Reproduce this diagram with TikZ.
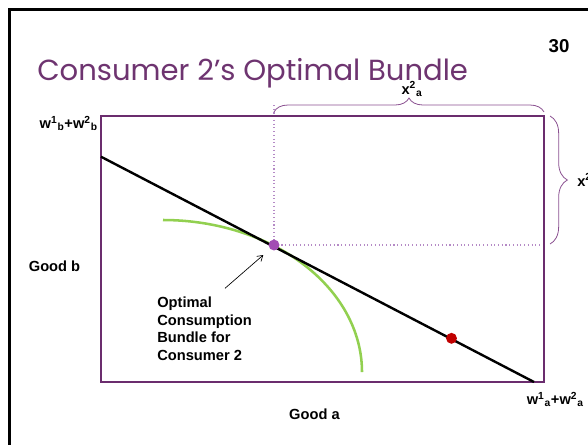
\documentclass[tikz,border=0pt]{standalone}
\usepackage{fontspec}
\setmainfont{Liberation Sans}
\newfontfamily\titlefont{Poppins}
\usetikzlibrary{decorations.pathreplacing,arrows.meta}
\definecolor{boxpurple}{HTML}{6B2D6E}
\definecolor{titlepurple}{HTML}{6E3470}
\definecolor{dotpurple}{HTML}{A24CB4}
\definecolor{lightpurple}{HTML}{B58AC6}
\definecolor{bracepurple}{HTML}{8A5090}
\definecolor{curvegreen}{HTML}{92D050}
\definecolor{dotred}{HTML}{C00000}
\tikzset{
  lbl/.style={font=\fontsize{11}{13.3}\selectfont\bfseries, inner sep=0pt},
  bracestyle/.style={draw=bracepurple, line width=0.6pt, decorate},
  dotline/.style={draw=lightpurple, line width=0.8pt, dotted},
  dotmark/.style={circle, inner sep=0pt, minimum size=8.2pt}
}
\begin{document}
\begin{tikzpicture}[x=0.75pt, y=-0.75pt]
\useasboundingbox (0,0) rectangle (588,444);
\clip (0,0) rectangle (588,444);
% slide frame
\draw[line width=2.25pt] (9,9) rectangle (640,480);
% title
\node[anchor=base west, inner sep=0pt, text=titlepurple] (title) at (37,80.6)
  {\resizebox{323pt}{!}{\titlefont\fontsize{26}{30}\selectfont Consumer 2’s Optimal Bundle}};
\node[anchor=center, inner sep=0pt, font=\fontsize{14}{16}\selectfont\bfseries] (pnum) at (559,46.5) {30};
% coordinates
\coordinate (bl) at (101,382);
\coordinate (tr) at (544,116);
\coordinate (bstart) at (101,156.7);
\coordinate (bend) at (534,382);
\coordinate (opt) at (274,245);
\coordinate (vtop) at (274,105);
\coordinate (hright) at (544,245);
% dotted lines
\draw[dotline] (vtop) -- (opt);
\draw[dotline] (opt) -- (hright);
% box
\draw[boxpurple, line width=1.8pt] (bl) rectangle (tr);
% indifference curve
\draw[curvegreen, line width=1.9pt] plot[domain=0:90, samples=80, smooth] ({163+199*sin(\x)},{372-152*cos(\x)});
% budget line
\draw[line width=1.8pt] (bstart) -- (bend);
% dots
\node[dotmark, fill=dotpurple] (optdot) at (opt) {};
\node[dotmark, fill=dotred] (reddot) at (451.5,338.3) {};
% braces
\coordinate (tb1) at (274,112);
\coordinate (tb2) at (544,112);
\draw[bracestyle, decoration={brace, amplitude=10.5pt}] (tb1) -- (tb2);
\coordinate (rb1) at (550,116);
\coordinate (rb2) at (550,244);
\draw[bracestyle, decoration={brace, amplitude=13pt}] (rb1) -- (rb2);
% labels
\node[lbl, anchor=base] (xa) at (412,94) {x\textsuperscript{2}\textsubscript{a}};
\node[lbl, anchor=base west] (xb) at (577,186) {x\textsuperscript{2}\textsubscript{b}};
\node[lbl, anchor=base east] (wb) at (98,128.5) {w\textsuperscript{1}\textsubscript{b}+w\textsuperscript{2}\textsubscript{b}};
\node[lbl, anchor=base west] (wa) at (526.5,404.5) {w\textsuperscript{1}\textsubscript{a}+w\textsuperscript{2}\textsubscript{a}};
\node[lbl, anchor=base] (gb) at (54.5,271.7) {Good b};
\node[lbl, anchor=base] (ga) at (314.5,419.3) {Good a};
\node[lbl, anchor=north west, align=left] (optlbl) at (157,296.5) {Optimal\\Consumption\\Bundle for\\Consumer 2};
% arrow
\coordinate (arrtail) at (225,288.3);
\coordinate (arrhead) at (263.3,255);
\draw[line width=0.5pt, -{Straight Barb[length=4pt, width=5pt]}] (arrtail) -- (arrhead);
\end{tikzpicture}
\end{document}
